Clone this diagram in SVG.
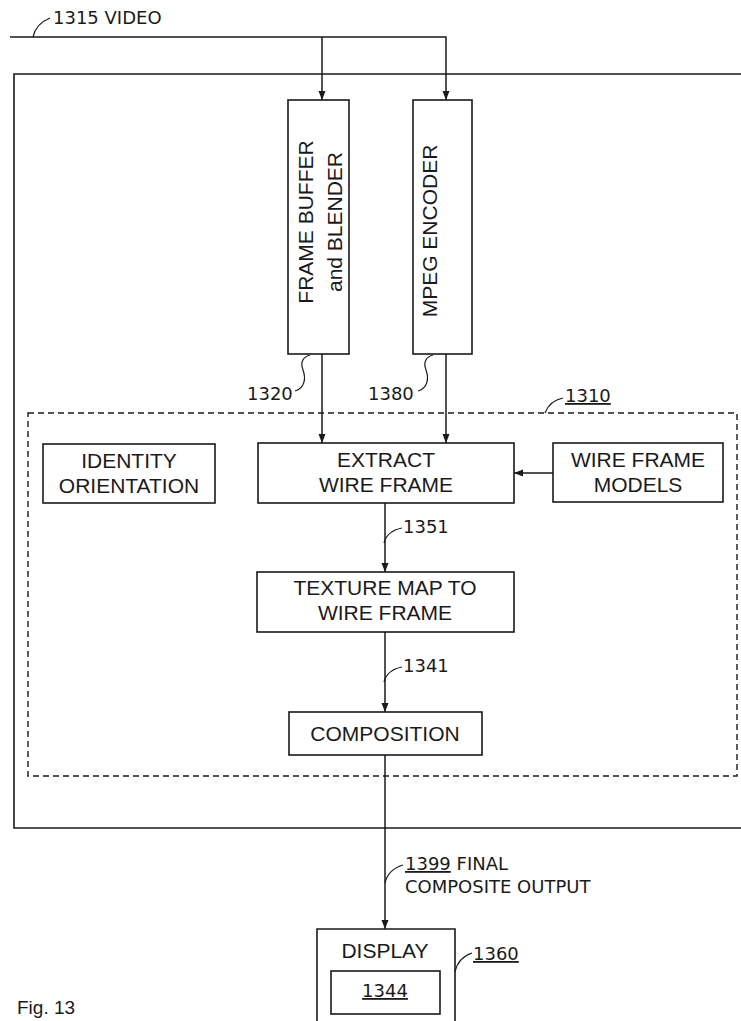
<svg xmlns="http://www.w3.org/2000/svg" width="741" height="1021" viewBox="0 0 741 1021">
<style>
  .box{fill:none;stroke:#1a1a1a;stroke-width:1.6}
  .ln{fill:none;stroke:#1a1a1a;stroke-width:1.5}
  .ld{fill:none;stroke:#1a1a1a;stroke-width:1.2}
  .dash{fill:none;stroke:#1a1a1a;stroke-width:1.4;stroke-dasharray:6,4}
  .t{font-family:"Liberation Sans",Arial,sans-serif;font-size:21px;fill:#1a1a1a;text-anchor:middle}
  .lb{font-family:"DejaVu Sans",Verdana,sans-serif;font-size:18px;fill:#1a1a1a}
  .u{text-decoration:underline}
</style>
<defs>
  <marker id="ah" markerUnits="userSpaceOnUse" markerWidth="10" markerHeight="8" refX="9" refY="4" orient="auto">
    <path d="M0,0.5 L9,4 L0,7.5 Z" fill="#1a1a1a"/>
  </marker>
</defs>
<rect width="741" height="1021" fill="#ffffff"/>

<g id="outer">
  <path class="box" d="M741,74 H14 V828 H741"/>
</g>
<g id="group1310">
  <rect class="dash" x="28" y="413" width="709" height="363"/>
  <path class="ld" d="M545,413 C548,405 553,400 563,398"/>
  <text class="lb u" x="565" y="402">1310</text>
</g>

<g id="frame-buffer">
  <rect class="box" x="288" y="100" width="61" height="254"/>
  <text class="t" transform="translate(313,222) rotate(-90)">FRAME BUFFER</text>
  <text class="t" transform="translate(342,222) rotate(-90)">and BLENDER</text>
  <path class="ld" d="M295,391 C305,388 306,378 303,370 C300,362 303,357 310,355"/>
  <text class="lb" x="247" y="400">1320</text>
</g>
<g id="mpeg-encoder">
  <rect class="box" x="413" y="100" width="59" height="254"/>
  <text class="t" transform="translate(437,231) rotate(-90)">MPEG ENCODER</text>
  <path class="ld" d="M418,391 C428,388 429,378 426,370 C423,362 426,357 433,355"/>
  <text class="lb" x="368" y="400">1380</text>
</g>
<g id="identity-orientation">
  <rect class="box" x="43" y="444" width="172" height="59"/>
  <text class="t" x="129" y="468">IDENTITY</text>
  <text class="t" x="129" y="493">ORIENTATION</text>
</g>
<g id="extract-wire-frame">
  <rect class="box" x="258" y="443" width="256" height="60"/>
  <text class="t" x="386" y="467">EXTRACT</text>
  <text class="t" x="386" y="492">WIRE FRAME</text>
</g>
<g id="wire-frame-models">
  <rect class="box" x="553" y="443" width="170" height="59"/>
  <text class="t" x="638" y="467">WIRE FRAME</text>
  <text class="t" x="638" y="492">MODELS</text>
</g>
<g id="texture-map">
  <rect class="box" x="257" y="572" width="257" height="60"/>
  <text class="t" x="385" y="595">TEXTURE MAP TO</text>
  <text class="t" x="385" y="620">WIRE FRAME</text>
</g>
<g id="composition">
  <rect class="box" x="289" y="712" width="193" height="43"/>
  <text class="t" x="385" y="741">COMPOSITION</text>
</g>
<g id="display">
  <path class="box" d="M317,1022 V929 H455 V1022"/>
  <text class="t" x="385" y="958">DISPLAY</text>
  <rect class="box" x="331" y="971" width="109" height="43"/>
  <text class="lb u" x="385" y="997" text-anchor="middle">1344</text>
  <path class="ld" d="M455,972 C457,962 463,956 472,953"/>
  <text class="lb u" x="473" y="960">1360</text>
</g>

<g id="connectors">
  <path class="ln" d="M10,37 H446 V100" marker-end="url(#ah)"/>
  <path class="ln" d="M322,37 V100" marker-end="url(#ah)"/>
  <path class="ln" d="M322,354 V443" marker-end="url(#ah)"/>
  <path class="ln" d="M446,354 V443" marker-end="url(#ah)"/>
  <path class="ln" d="M553,473 H514" marker-end="url(#ah)"/>
  <path class="ln" d="M385,503 V572" marker-end="url(#ah)"/>
  <path class="ln" d="M385,632 V712" marker-end="url(#ah)"/>
  <path class="ln" d="M385,755 V929" marker-end="url(#ah)"/>
</g>

<g id="labels">
  <path class="ld" d="M33,37 C35,28 40,22 50,18"/>
  <text class="lb" x="53" y="24">1315 VIDEO</text>
  <path class="ld" d="M384,543 C386,535 392,530 402,528"/>
  <text class="lb" x="403" y="533">1351</text>
  <path class="ld" d="M384,682 C386,674 392,669 402,667"/>
  <text class="lb" x="403" y="672">1341</text>
  <path class="ld" d="M385,883 C387,874 393,868 403,865"/>
  <text class="lb" x="405" y="870"><tspan class="u">1399</tspan> FINAL</text>
  <text class="lb" x="405" y="893">COMPOSITE OUTPUT</text>
  <text x="17" y="1014" style="font-family:'Liberation Sans',Arial,sans-serif;font-size:19px;fill:#1a1a1a">Fig. 13</text>
</g>
</svg>
